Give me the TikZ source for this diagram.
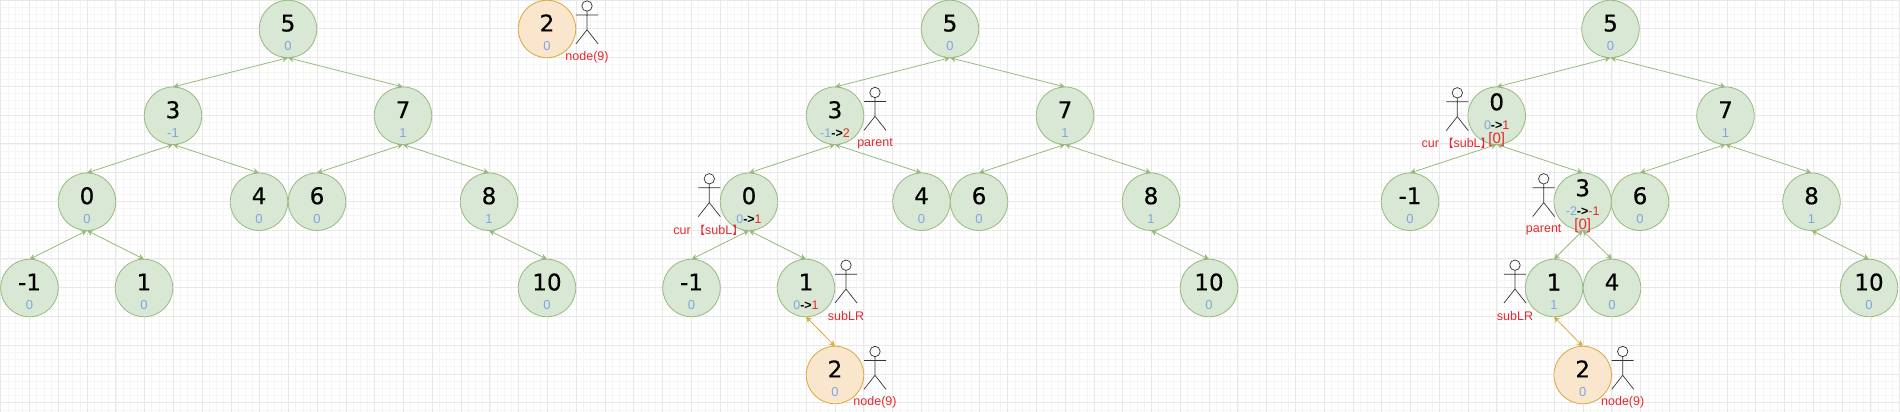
\documentclass[tikz,border=0pt]{standalone}
\usepackage{fontspec}
\setmainfont{Liberation Sans}
\newfontfamily\numfont[FakeBold=0.4]{DejaVu Sans}
\newfontfamily\cjk{Noto Sans CJK SC}
\definecolor{avlgreen}{HTML}{D9E8D4}
\definecolor{avlline}{HTML}{97B97C}
\definecolor{newfill}{HTML}{FAE5CD}
\definecolor{newline}{HTML}{D8AA3C}
\definecolor{balblue}{HTML}{7EA6E0}
\definecolor{whored}{HTML}{E5282E}
\definecolor{actorgrey}{HTML}{333333}
\definecolor{gridmajor}{HTML}{E8E8E8}
\definecolor{gridminor}{HTML}{F5F5F5}
\usetikzlibrary{
  arrows.meta,
}
\newcommand{\bal}[1]{{\rmfamily\fontsize{13}{14}\selectfont\color{balblue}#1}}
\newcommand{\chg}[2]{{\rmfamily\fontsize{12.5}{14}\selectfont\color{balblue}#1\color{black}\textbf{->}\color{whored}#2}}
\newcommand{\val}[2]{\rule{0pt}{24pt}#1\\#2}
\newcommand{\valup}[2]{#1\\#2\rule[-9pt]{0pt}{9pt}}
\newcommand{\curtext}{cur {\cjk\fontsize{11}{14}\selectfont 【}subL{\cjk\fontsize{11}{14}\selectfont 】}}
\tikzset{
  pics/actor/.style={
    code={
      \draw[actorgrey, line width=0.7pt] (0,5.5) circle (5.2);
      \draw[actorgrey, line width=0.7pt] (0,10.7) -- (0,29.3)
        (-11,14.5) -- (11,14.5)
        (-11,43.3) -- (0,29.3) -- (11,43.3);
    }
  },
}

\begin{document}
\begin{tikzpicture}[
  x=1pt, y=-1pt,
  avl/.style={
    circle, draw=avlline, fill=avlgreen, line width=0.8pt,
    minimum size=57.5pt, inner sep=0pt, outer sep=0pt, align=center,
    font=\numfont\fontsize{23}{19}\selectfont,
  },
  fresh/.style={
    avl, draw=newline, fill=newfill,
  },
  link/.style={
    draw=avlline, line width=0.8pt,
    {Stealth[length=6pt,width=6pt]}-{Stealth[length=6pt,width=6pt]},
  },
  newlink/.style={
    link, draw=newline,
  },
  who/.style={
    font=\fontsize{12.5}{14}\selectfont, text=whored, inner sep=0pt,
  },
  zerotag/.style={
    font=\fontsize{15}{15}\selectfont, text=whored, inner sep=0pt,
  },
]
  \useasboundingbox (0,0) rectangle (1900,412);
  % Paper grid
  \draw[gridminor, line width=0.7pt, step=7.1925pt, xshift=0.8pt] (0,0) grid (1900,412);
  \draw[gridmajor, line width=0.9pt, step=28.77pt, xshift=0.8pt] (0,0) grid (1900,412);

  % First tree
  \node[avl] (a5) at (288,29) {\val{5}{\bal{0}}};
  \node[avl] (a3) at (173,115.7) {\val{3}{\bal{-1}}};
  \node[avl] (a7) at (403,115.7) {\val{7}{\bal{1}}};
  \node[avl] (a0) at (87,201.7) {\val{0}{\bal{0}}};
  \node[avl] (a4) at (259,201.7) {\val{4}{\bal{0}}};
  \node[avl] (a6) at (317,201.7) {\val{6}{\bal{0}}};
  \node[avl] (a8) at (489,201.7) {\val{8}{\bal{1}}};
  \node[avl] (am1) at (29.5,288) {\val{-1}{\bal{0}}};
  \node[avl] (a1) at (144,288) {\val{1}{\bal{0}}};
  \node[avl] (a10) at (547,288) {\val{10}{\bal{0}}};
  \draw[link] (a5.south) -- (a3.north);
  \draw[link] (a5.south) -- (a7.north);
  \draw[link] (a3.south) -- (a0.north);
  \draw[link] (a3.south) -- (a4.north);
  \draw[link] (a7.south) -- (a6.north);
  \draw[link] (a7.south) -- (a8.north);
  \draw[link] (a0.south) -- (am1.north);
  \draw[link] (a0.south) -- (a1.north);
  \draw[link] (a8.south) -- (a10.north);

  % Node to insert
  \node[fresh] (a2) at (547,29) {\val{2}{\bal{0}}};
  \pic at (587,0.5) {actor};
  \node[who] (anode) at (587,57.7) {node(9)};

  % Second tree
  \node[avl] (b5) at (950,29) {\val{5}{\bal{0}}};
  \node[avl] (b3) at (835,115.7) {\val{3}{\chg{-1}{2}}};
  \node[avl] (b7) at (1065,115.7) {\val{7}{\bal{1}}};
  \node[avl] (b0) at (749,201.7) {\val{0}{\chg{0}{1}}};
  \node[avl] (b4) at (921.5,201.7) {\val{4}{\bal{0}}};
  \node[avl] (b6) at (979,201.7) {\val{6}{\bal{0}}};
  \node[avl] (b8) at (1151,201.7) {\val{8}{\bal{1}}};
  \node[avl] (bm1) at (691.5,288) {\val{-1}{\bal{0}}};
  \node[avl] (b1) at (806,288) {\val{1}{\chg{0}{1}}};
  \node[avl] (b10) at (1209,288) {\val{10}{\bal{0}}};
  \node[fresh] (b2) at (835,375) {\val{2}{\bal{0}}};
  \draw[link] (b5.south) -- (b3.north);
  \draw[link] (b5.south) -- (b7.north);
  \draw[link] (b3.south) -- (b0.north);
  \draw[link] (b3.south) -- (b4.north);
  \draw[link] (b7.south) -- (b6.north);
  \draw[link] (b7.south) -- (b8.north);
  \draw[link] (b0.south) -- (bm1.north);
  \draw[link] (b0.south) -- (b1.north);
  \draw[link] (b8.south) -- (b10.north);
  \draw[newlink] (b1.south) -- (b2.north);
  \pic at (875,87) {actor};
  \node[who] (bparent) at (875,143.7) {parent};
  \pic at (709.3,173.3) {actor};
  \node[who] (bcur) at (708.3,230) {\curtext};
  \pic at (846,259.7) {actor};
  \node[who] (bsub) at (846,316) {subLR};
  \pic at (875,346) {actor};
  \node[who] (bnode) at (875,402.7) {node(9)};

  % Third tree
  \node[avl] (c5) at (1610.5,29) {\val{5}{\bal{0}}};
  \node[avl] (c0) at (1496.7,115.7) {\valup{0}{\chg{0}{1}}};
  \node[avl] (c7) at (1725.5,115.7) {\val{7}{\bal{1}}};
  \node[avl] (cm1) at (1410,201.7) {\val{-1}{\bal{0}}};
  \node[avl] (c3) at (1582.7,201.7) {\valup{3}{\chg{-2}{-1}}};
  \node[avl] (c6) at (1640,201.7) {\val{6}{\bal{0}}};
  \node[avl] (c8) at (1811.5,201.7) {\val{8}{\bal{1}}};
  \node[avl] (c1) at (1554,288) {\val{1}{\bal{1}}};
  \node[avl] (c4) at (1612,288) {\val{4}{\bal{0}}};
  \node[avl] (c10) at (1869,288) {\val{10}{\bal{0}}};
  \node[fresh] (c2) at (1582.7,375) {\val{2}{\bal{0}}};
  \draw[link] (c5.south) -- (c0.north);
  \draw[link] (c5.south) -- (c7.north);
  \draw[link] (c0.south) -- (cm1.north);
  \draw[link] (c0.south) -- (c3.north);
  \draw[link] (c3.south) -- (c1.north);
  \draw[link] (c3.south) -- (c4.north);
  \draw[link] (c7.south) -- (c6.north);
  \draw[link] (c7.south) -- (c8.north);
  \draw[link] (c8.south) -- (c10.north);
  \draw[newlink] (c1.south) -- (c2.north);
  \node[zerotag] (c0tag) at (1496.7,140) {[0]};
  \node[zerotag] (c3tag) at (1582.7,225.7) {[0]};
  \pic at (1457.3,87.3) {actor};
  \node[who] (ccur) at (1456.7,143.3) {\curtext};
  \pic at (1543.7,173.3) {actor};
  \node[who] (cparent) at (1543.7,230) {parent};
  \pic at (1515,259.7) {actor};
  \node[who] (csub) at (1515,316) {subLR};
  \pic at (1622.7,346) {actor};
  \node[who] (cnode) at (1622.7,402.7) {node(9)};
\end{tikzpicture}
\end{document}
